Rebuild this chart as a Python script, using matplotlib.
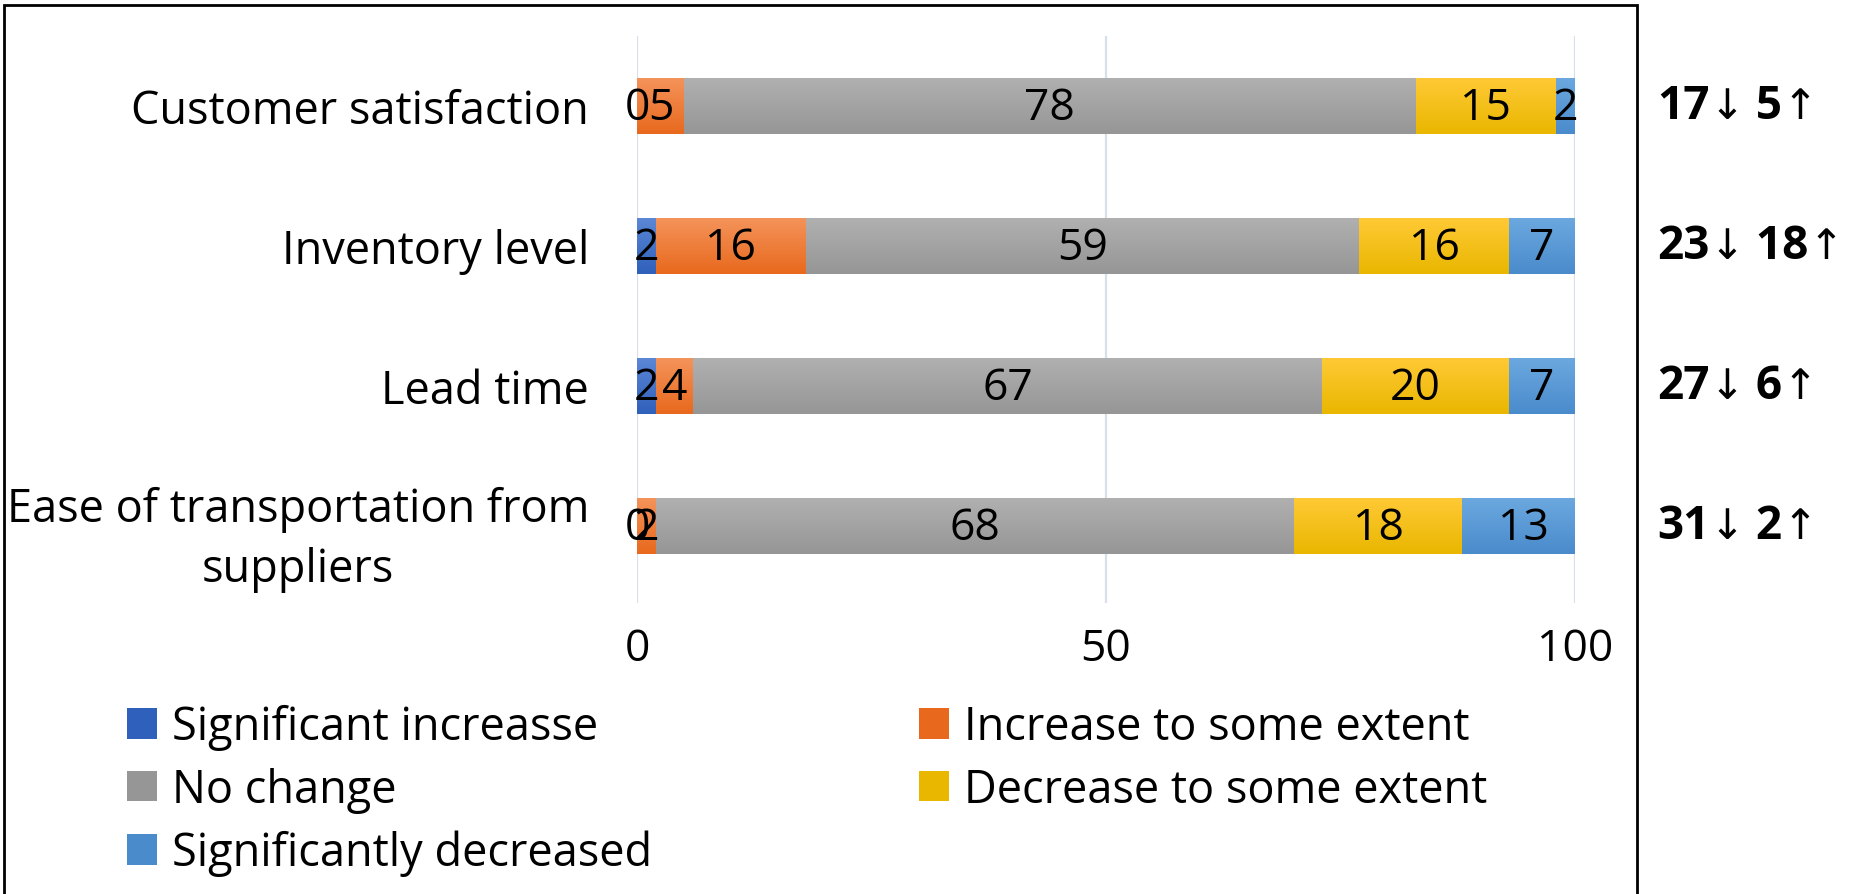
import numpy as np
import matplotlib
matplotlib.use("Agg")
import matplotlib.pyplot as plt
import matplotlib.transforms as mtransforms
from matplotlib.patches import Rectangle, Patch
from matplotlib.offsetbox import TextArea, HPacker, AnnotationBbox
from matplotlib.colors import LinearSegmentedColormap

# ---- data -------------------------------------------------------------
categories = [
    "Customer satisfaction",
    "Inventory level",
    "Lead time",
    "Ease of transportation from\nsuppliers",
]
series_names = [
    "Significant increasse",
    "Increase to some extent",
    "No change",
    "Decrease to some extent",
    "Significantly decreased",
]
significant_increase = [0, 2, 2, 0]
increase_some = [5, 16, 4, 2]
no_change = [78, 59, 67, 68]
decrease_some = [15, 16, 20, 18]
significantly_decreased = [2, 7, 7, 13]
x_ticks = [0, 50, 100]

series_values = [significant_increase, increase_some, no_change,
                 decrease_some, significantly_decreased]

# gradient colours (top, bottom) per series
series_colors = [
    ("#5b87d5", "#2f60bb"),
    ("#f4935a", "#e8691d"),
    ("#b0b0b0", "#969696"),
    ("#ffc935", "#e9b700"),
    ("#6ba8df", "#4a8bcc"),
]

FONT = ["Open Sans", "DejaVu Sans"]
plt.rcParams["font.family"] = FONT

W, H = 1860, 895
fig = plt.figure(figsize=(W / 100, H / 100), dpi=100)
fig.patch.set_facecolor("white")

ax_left, ax_right, ax_top, ax_bottom = 637, 1575, 37, 604
ax = fig.add_axes([ax_left / W, 1 - ax_bottom / H,
                   (ax_right - ax_left) / W, (ax_bottom - ax_top) / H])

n = len(categories)
ypos = np.arange(n)[::-1].astype(float)
bar_h = 0.4
left = np.zeros(n)
grad = np.linspace(0, 1, 64)[:, None]
handles = []

for name, vals, (ctop, cbot) in zip(series_names, series_values, series_colors):
    vals = np.asarray(vals, dtype=float)
    bars = ax.barh(ypos, vals, height=bar_h, left=left,
                   color=ctop, edgecolor="none", zorder=2)
    cmap = LinearSegmentedColormap.from_list(name, [cbot, ctop])
    for rect in bars:
        x0, y0 = rect.get_x(), rect.get_y()
        w, h = rect.get_width(), rect.get_height()
        if w <= 0:
            continue
        im = ax.imshow(grad, cmap=cmap, extent=[x0, x0 + w, y0, y0 + h],
                       origin="lower", aspect="auto", zorder=3,
                       interpolation="bilinear")
        # clip to the bar shape while keeping the axes clip box
        im.set_clip_path(rect.get_path(), rect.get_transform())
    for xc, v, y in zip(left + vals / 2, vals, ypos):
        ax.text(xc, y - 0.015, f"{int(v)}", ha="center", va="center",
                fontsize=32, color="black", zorder=6)
    handles.append(Patch(facecolor=cbot, edgecolor="none", label=name))
    left += vals

ax.set_xlim(0, 100)
ax.set_ylim(-0.55, n - 0.5)
ax.set_xticks(x_ticks)
ax.set_yticks(ypos)
ax.set_yticklabels(categories, ha="center", fontsize=32.5, linespacing=1.42)
ax.tick_params(axis="y", length=0, pad=0)
ax.tick_params(axis="x", length=0, pad=17, labelsize=32)

# right-align each category block at a fixed gap from the plot, lines centred
fig.canvas.draw()
renderer = fig.canvas.get_renderer()
for lab in ax.get_yticklabels():
    bb = lab.get_window_extent(renderer)
    shift = bb.x1 - (ax_left - 48)
    lab.set_transform(lab.get_transform() + mtransforms.Affine2D().translate(-shift, 0))

for s in ax.spines.values():
    s.set_visible(False)
ax.set_axisbelow(True)
ax.xaxis.grid(True, color="#d9dfe8", linewidth=1.6, zorder=0)
ax.yaxis.grid(False)

# totals to the right of the chart
blend = mtransforms.blended_transform_factory(fig.transFigure, ax.transData)
dec_totals = np.add(decrease_some, significantly_decreased)
inc_totals = np.add(significant_increase, increase_some)
for y, d, i in zip(ypos, dec_totals, inc_totals):
    parts = [
        TextArea(f"{d}", textprops=dict(fontsize=33, fontweight="bold", family=FONT)),
        TextArea("\u2193", textprops=dict(fontsize=30, family=["DejaVu Sans"])),
        TextArea(f" {i}", textprops=dict(fontsize=33, fontweight="bold", family=FONT)),
        TextArea("\u2191", textprops=dict(fontsize=30, family=["DejaVu Sans"])),
    ]
    box = HPacker(children=parts, align="baseline", pad=0, sep=0)
    ab = AnnotationBbox(box, (1657 / W, y), xycoords=blend, box_alignment=(0, 0.5),
                        frameon=False, pad=0, annotation_clip=False)
    fig.add_artist(ab)

# legend in two columns
leg_kw = dict(frameon=False, fontsize=32.5, handlelength=0.67, handleheight=0.67,
              handletextpad=0.33, labelspacing=0.37, borderpad=0, borderaxespad=0,
              loc="upper left")
order1 = [0, 2, 4]
order2 = [1, 3]
leg1 = fig.legend([handles[k] for k in order1], [series_names[k] for k in order1],
                  bbox_to_anchor=(127 / W, 1 - 705 / H), **leg_kw)
leg2 = fig.legend([handles[k] for k in order2], [series_names[k] for k in order2],
                  bbox_to_anchor=(919 / W, 1 - 705 / H), **leg_kw)

# outer frame
fig.add_artist(Rectangle((4 / W, -0.05), (1637 - 4) / W, 1.05 - 6 / H,
                         transform=fig.transFigure, fill=False,
                         edgecolor="black", linewidth=2.0))

fig.savefig("out.png", dpi=100, facecolor="white")
